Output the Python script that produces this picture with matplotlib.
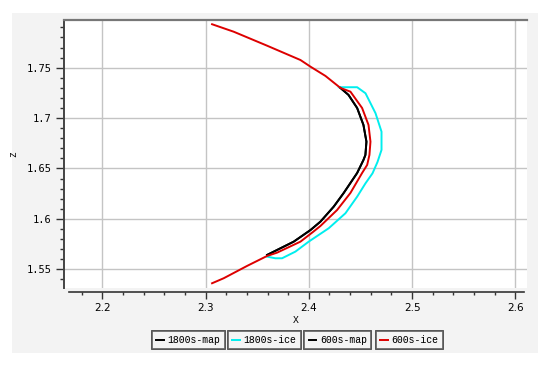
import matplotlib
matplotlib.use("Agg")
import matplotlib.pyplot as plt
from matplotlib.patches import Rectangle
from matplotlib.ticker import MultipleLocator, FuncFormatter

# 600s-ice (red), full trajectory
ice600_x = [2.3063, 2.3272, 2.3596, 2.3919, 2.4016, 2.4161, 2.4306, 2.4403,
            2.4516, 2.4578, 2.4597, 2.4587, 2.4565, 2.4516, 2.4403, 2.4274,
            2.4112, 2.4044, 2.3919, 2.3693, 2.3596, 2.3402, 2.3176, 2.3063]
ice600_z = [1.7931, 1.7857, 1.7718, 1.7576, 1.7510, 1.7418, 1.7299, 1.7262,
            1.7100, 1.6932, 1.6766, 1.6634, 1.6535, 1.6455, 1.6257, 1.6088,
            1.5929, 1.5873, 1.5774, 1.5665, 1.5632, 1.5533, 1.5411, 1.5361]

# map curves (1800s and 600s coincide)
map_x = [2.4306, 2.4384, 2.4468, 2.4529, 2.4558, 2.4548, 2.4529, 2.4468,
         2.4338, 2.4241, 2.4112, 2.4016, 2.3854, 2.3725, 2.3596]
map_z = [1.7299, 1.7230, 1.7100, 1.6932, 1.6766, 1.6634, 1.6584, 1.6455,
         1.6257, 1.6121, 1.5972, 1.5889, 1.5774, 1.5708, 1.5642]

# 1800s-ice (cyan)
ice1800_x = [2.4290, 2.4468, 2.4549, 2.4646, 2.4704, 2.4704, 2.4665, 2.4617,
             2.4549, 2.4468, 2.4355, 2.4193, 2.3999, 2.3870, 2.3741, 2.3676,
             2.3596]
ice1800_z = [1.7306, 1.7306, 1.7246, 1.7048, 1.6865, 1.6684, 1.6564, 1.6452,
             1.6353, 1.6220, 1.6056, 1.5907, 1.5774, 1.5675, 1.5609, 1.5609,
             1.5625]

LABELS = ["1800s-map", "1800s-ice", "600s-map", "600s-ice"]
X_TICKS = [2.2, 2.3, 2.4, 2.5, 2.6]
Z_TICKS = [1.55, 1.6, 1.65, 1.7, 1.75]

RED, CYAN, BLACK = "#dd0000", "#00eeee", "#000000"
TICKFONT = "DejaVu Sans Mono"

fig = plt.figure(figsize=(5.5, 3.67), dpi=100)
fig.patch.set_facecolor("white")
fig.add_artist(Rectangle((12 / 550, 1 - 353 / 367), 526 / 550, 340 / 367,
                         transform=fig.transFigure, facecolor="#f3f3f3",
                         edgecolor="none", zorder=0))

ax = fig.add_axes([64 / 550, 1 - 288 / 367, 463 / 550, 268 / 367])
ax.set_facecolor("white")

l1, = ax.plot(map_x, map_z, color=BLACK, lw=1.4)
l2, = ax.plot(ice1800_x, ice1800_z, color=CYAN, lw=1.4)
l3, = ax.plot(map_x, map_z, color=BLACK, lw=1.4)
l4, = ax.plot(ice600_x, ice600_z, color=RED, lw=1.4)

ax.set_xlim(2.1629, 2.6113)
ax.set_ylim(1.5314, 1.7973)
ax.set_xticks(X_TICKS)
ax.set_yticks(Z_TICKS)
ax.xaxis.set_minor_locator(MultipleLocator(0.02))
ax.yaxis.set_minor_locator(MultipleLocator(0.01))
ax.yaxis.set_major_formatter(FuncFormatter(lambda v, p: f"{v:g}"))
ax.xaxis.set_major_formatter(FuncFormatter(lambda v, p: f"{v:g}"))
ax.grid(True, which="major", color="#c4c4c4", lw=1.0)
ax.set_axisbelow(True)

ax.tick_params(which="major", direction="out", length=6, width=1.0,
               color="#333333", labelsize=7.5, pad=3)
ax.tick_params(which="minor", direction="out", length=3, width=1.0,
               color="#333333")
ax.tick_params(axis="x", which="major", length=5)
ax.tick_params(axis="x", which="minor", length=2.5)
for t in ax.get_xticklabels() + ax.get_yticklabels():
    t.set_fontfamily(TICKFONT)

ax.spines["right"].set_visible(False)
ax.spines["top"].set_color("#777777")
ax.spines["top"].set_linewidth(1.6)
ax.spines["left"].set_color("#444444")
ax.spines["left"].set_linewidth(1.4)
ax.spines["bottom"].set_color("#333333")
ax.spines["bottom"].set_linewidth(1.2)
ax.spines["bottom"].set_position(("outward", 3))
ax.spines["bottom"].set_bounds(2.168, 2.608)

ax.set_xlabel("X", fontsize=7, family="Liberation Mono", labelpad=1)
ax.set_ylabel("z", fontsize=7, family="Liberation Mono")
ax.yaxis.set_label_coords((18 - 64) / 463, 0.5)

# four separate legend boxes along the bottom
lefts = [151.7, 227.7, 304.3, 376.0]
for h, lab, lx in zip([l1, l2, l3, l4], LABELS, lefts):
    lg = fig.legend([h], [lab], loc="center left",
                    bbox_to_anchor=(lx / 550, 1 - 340 / 367),
                    frameon=True, fancybox=False, handlelength=0.8,
                    handletextpad=0.35, borderpad=0.45, borderaxespad=0,
                    prop={"family": "Liberation Mono", "size": 7})
    lg.get_frame().set_edgecolor("#444444")
    lg.get_frame().set_facecolor("#f5f5f5")
    lg.get_frame().set_linewidth(1.2)
    fig.add_artist(lg)

fig.savefig("out.png", dpi=100)
